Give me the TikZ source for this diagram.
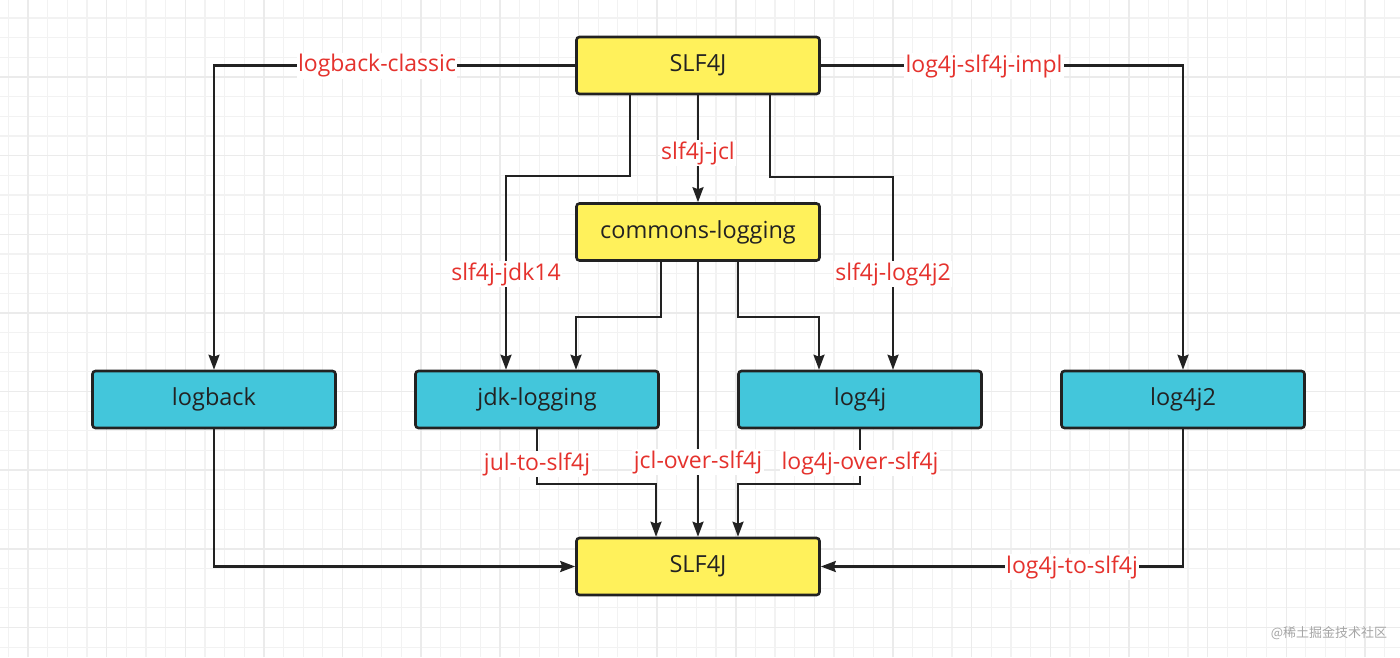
\documentclass[tikz,border=0pt]{standalone}
\usepackage{fontspec}
\setmainfont{Open Sans}
\newfontfamily\cjkfont{Noto Sans CJK SC}
\usetikzlibrary{arrows.meta}
\definecolor{lgyellow}{HTML}{FFF15B}
\definecolor{lgcyan}{HTML}{43C6DB}
\definecolor{lgred}{HTML}{E5322D}
\definecolor{lgedge}{HTML}{222222}
\begin{document}
\begin{tikzpicture}[x=1pt, y=1pt,
  box/.style={draw=lgedge, line width=2.6pt, rounded corners=3pt,
              minimum width=243pt, minimum height=57pt, inner sep=0pt,
              font=\fontsize{23.5}{27}\selectfont, text=lgedge},
  api/.style={box, fill=lgyellow},
  impl/.style={box, fill=lgcyan},
  lbl/.style={fill=white, text=lgred, inner sep=1.5pt,
              font=\fontsize{23}{27}\selectfont},
  flow/.style={-{Stealth[length=15pt, width=11pt, inset=2pt]},
               line width=2.3pt, draw=lgedge}]
  % background grid
  \fill[white] (0,0) rectangle (1400,-657);
  \useasboundingbox (0,0) rectangle (1400,-657);
  \begin{scope}[shift={(8.3,-18)}]
    \draw[black!5, line width=1.2pt, step=19.66] (-8.3,18) grid (1391.7,-639);
  \end{scope}
  \begin{scope}[shift={(28,-77)}]
    \draw[black!8, line width=1.5pt, step=78.64] (-28,77) grid (1372,-580);
  \end{scope}
  % nodes
  \node[api] (top) at (698,-65.5) {SLF4J};
  \node[api] (jcl) at (698,-232) {commons-logging};
  \node[impl] (logback) at (214,-399.5) {logback};
  \node[impl] (jdk) at (537,-399.5) {jdk-logging};
  \node[impl] (log4j) at (860,-399.5) {log4j};
  \node[impl] (log4jtwo) at (1183,-399.5) {log4j2};
  \node[api] (bottom) at (698,-566.5) {SLF4J};
  % bindings
  \draw[flow] (top.west) -| (logback.north);
  \draw[flow] (top.east) -| (log4jtwo.north);
  \draw[flow] (top.south) -- (jcl.north);
  \draw[flow] ([xshift=-68pt]top.south) -- ++(0,-81) -| ([xshift=-31pt]jdk.north);
  \draw[flow] ([xshift=72pt]top.south) -- ++(0,-82) -| ([xshift=33pt]log4j.north);
  \draw[flow] ([xshift=-37pt]jcl.south) -- ++(0,-55) -| ([xshift=39pt]jdk.north);
  \draw[flow] ([xshift=40pt]jcl.south) -- ++(0,-55) -| ([xshift=-41pt]log4j.north);
  % bridges
  \draw[flow] (jcl.south) -- (bottom.north);
  \draw[flow] (jdk.south) -- ++(0,-55) -| ([xshift=-42pt]bottom.north);
  \draw[flow] (log4j.south) -- ++(0,-55) -| ([xshift=40pt]bottom.north);
  \draw[flow] (logback.south) |- (bottom.west);
  \draw[flow] (log4jtwo.south) |- (bottom.east);
  % labels
  \node[lbl] (lclassic) at (377,-66) {logback-classic};
  \node[lbl] (limpl) at (984,-66) {log4j-slf4j-impl};
  \node[lbl] (ljcl) at (698,-153) {slf4j-jcl};
  \node[lbl] (ljdk) at (506,-274) {slf4j-jdk14};
  \node[lbl] (llogtwo) at (893,-274) {slf4j-log4j2};
  \node[lbl] (ljul) at (537,-464) {jul-to-slf4j};
  \node[lbl] (lover) at (698,-462) {jcl-over-slf4j};
  \node[lbl] (llogover) at (860,-463) {log4j-over-slf4j};
  \node[lbl] (lto) at (1072,-567) {log4j-to-slf4j};
  \node[text=black!35, font=\cjkfont\fontsize{13}{15}\selectfont] (mark) at (1329,-633) {@稀土掘金技术社区};
\end{tikzpicture}
\end{document}
